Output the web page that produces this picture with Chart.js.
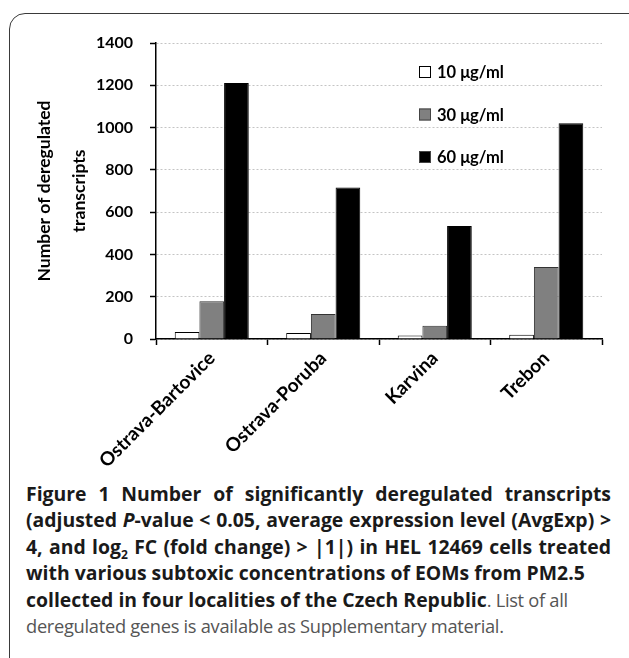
<!DOCTYPE html>
<html>
<head>
<meta charset="utf-8">
<script src="https://cdn.jsdelivr.net/npm/chart.js@4"></script>
<style>
  body { margin: 0; background: #fff; width: 629px; height: 658px; overflow: hidden; position: relative; }
  #frame { position: absolute; left: 9px; top: 13px; width: 700px; height: 700px;
           border: 1.5px solid #3a3a3a; border-radius: 16px; }
  #wrap { position: absolute; left: 0; top: 0; width: 629px; height: 472px; }
  #caption { position: absolute; left: 26px; top: 481px; width: 585px;
             font-family: "Open Sans", sans-serif; font-size: 18.3px; line-height: 26.4px; color: #333; }
  #caption div { white-space: nowrap; }
  #caption .j { text-align: justify; text-align-last: justify; white-space: normal; }
  #caption b { color: #1a1a1a; font-weight: 700; font-size: 19.4px; }
  #caption .lt { font-weight: 400; color: #555; letter-spacing: -0.3px; }
  sub { font-size: 12px; line-height: 0; }
</style>
</head>
<body>
<div id="frame"></div>
<div id="wrap"><canvas id="chart" width="629" height="472"></canvas></div>
<div id="caption">
  <div class="j"><b>Figure 1</b> <b>Number of significantly deregulated transcripts</b></div>
  <div class="j"><b>(adjusted <i>P</i>-value &lt; 0.05, average expression level (AvgExp) &gt;</b></div>
  <div class="j"><b>4, and log<sub>2</sub> FC (fold change) &gt; |1|) in HEL 12469 cells treated</b></div>
  <div><b>with various subtoxic concentrations of EOMs from PM2.5</b></div>
  <div><b>collected in four localities of the Czech Republic</b><span class="lt">. List of all</span></div>
  <div><span class="lt">deregulated genes is available as Supplementary material.</span></div>
</div>
<script>
// localities on the x axis
const categories = ["Ostrava-Bartovice", "Ostrava-Poruba", "Karvina", "Trebon"];

// number of deregulated transcripts per EOM dose
const dose10 = [33, 28, 17, 20];
const dose30 = [178, 118, 63, 341];
const dose60 = [1211, 717, 534, 1021];

const seriesLabels = ["10 \u03bcg/ml", "30 \u03bcg/ml", "60 \u03bcg/ml"];
const yMax = 1400, yStep = 200;

// legend drawn inside the plot, top right, like the original
const insideLegend = {
    id: "insideLegend",
    afterDraw(chart) {
        const ctx = chart.ctx;
        ctx.save();
        chart.data.datasets.forEach((ds, i) => {
            const y = 72 + i * 42.5;
            ctx.fillStyle = ds.backgroundColor;
            ctx.fillRect(419, y - 6, 12, 12);
            ctx.strokeStyle = i === 0 ? "#000" : "#444";
            ctx.lineWidth = 1;
            ctx.strokeRect(419.5, y - 5.5, 11, 11);
            ctx.fillStyle = "#000";
            ctx.font = "bold 16.5px Lato";
            ctx.textBaseline = "middle";
            ctx.fillText(ds.label, 437, y + 1);
        });
        ctx.restore();
    }
};

function barSet(label, data, fill, border) {
    return {
        label: label,
        data: data,
        backgroundColor: fill,
        borderColor: border,
        borderWidth: 1,
        barPercentage: 1,
        categoryPercentage: 0.664
    };
}

new Chart(document.getElementById("chart"), {
    type: "bar",
    data: {
        labels: categories,
        datasets: [
            barSet(seriesLabels[0], dose10, "#ffffff", "#000000"),
            barSet(seriesLabels[1], dose30, "#808080", "#333333"),
            barSet(seriesLabels[2], dose60, "#000000", "#000000")
        ]
    },
    options: {
        responsive: false,
        animation: false,
        layout: { padding: { left: 27, top: 43, right: 27, bottom: 4 } },
        plugins: { legend: { display: false }, tooltip: { enabled: false } },
        scales: {
            x: {
                afterFit: (scale) => { scale.height = 129; },
                grid: { display: true, drawOnChartArea: false, drawTicks: true, tickLength: 6,
                        tickColor: "#000", tickWidth: 1.5, offset: true },
                border: { color: "#000", width: 1.5 },
                ticks: { font: { family: "Lato", weight: "bold", size: 19 }, color: "#000",
                         minRotation: 45, maxRotation: 45, autoSkip: false, padding: 2 }
            },
            y: {
                min: 0,
                max: yMax,
                afterFit: (scale) => { scale.width = 129; },
                grid: { color: "#c4c4c4", lineWidth: 1, tickColor: "#000", tickWidth: 1.5, tickLength: 6 },
                border: { color: "#000", width: 1.5, dash: [2, 2] },
                ticks: { stepSize: yStep, font: { family: "Lato", weight: "bold", size: 16 },
                         color: "#000", padding: 17, callback: (v) => String(v) },
                title: {
                    display: true,
                    text: ["Number of deregulated", "transcripts"],
                    font: { family: "Lato", weight: "bold", size: 17.5, lineHeight: 2.0 },
                    color: "#000",
                    padding: { top: 0, bottom: 4 }
                }
            }
        }
    },
    plugins: [insideLegend]
});
</script>
</body>
</html>
